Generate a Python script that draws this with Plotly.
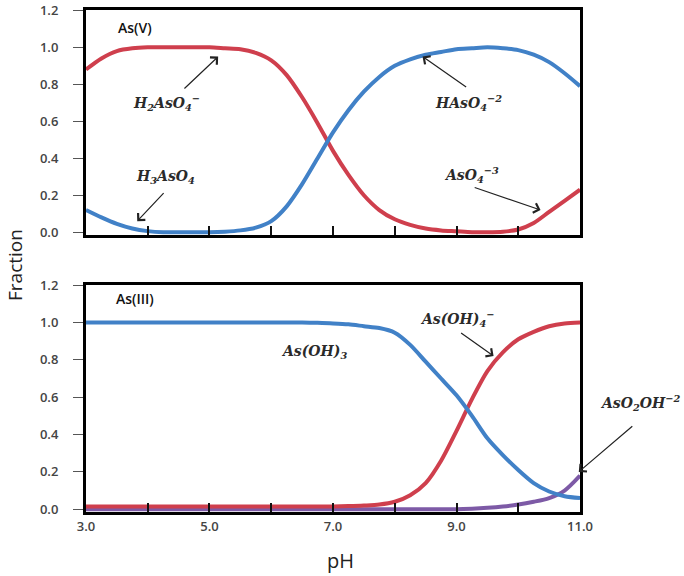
import plotly.graph_objects as go

ph = [3.0, 3.25, 3.5, 3.75, 4.0, 4.25, 4.5, 4.75, 5.0, 5.25, 5.5, 5.75, 6.0, 6.25, 6.5, 6.75,
      7.0, 7.25, 7.5, 7.75, 8.0, 8.25, 8.5, 8.75, 9.0, 9.25, 9.5, 9.75, 10.0, 10.25, 10.5, 10.75, 11.0]

# As(V) panel
as5_red = [0.88, 0.94, 0.98, 0.995, 1.0, 1.0, 1.0, 1.0, 1.0, 0.995, 0.99, 0.97, 0.93, 0.85, 0.73, 0.59,
           0.44, 0.31, 0.20, 0.12, 0.07, 0.04, 0.02, 0.01, 0.005, 0.0, 0.0, 0.003, 0.015, 0.05, 0.11, 0.17, 0.23]
as5_blue = [0.12, 0.08, 0.045, 0.02, 0.006, 0.0, 0.0, 0.0, 0.0, 0.003, 0.01, 0.025, 0.06, 0.14, 0.26, 0.40,
            0.54, 0.66, 0.76, 0.84, 0.90, 0.935, 0.96, 0.975, 0.99, 0.995, 1.0, 0.995, 0.985, 0.96, 0.92, 0.86, 0.79]

# As(III) panel
as3_blue = [1.0, 1.0, 1.0, 1.0, 1.0, 1.0, 1.0, 1.0, 1.0, 1.0, 1.0, 1.0, 1.0, 1.0, 1.0, 0.998,
            0.995, 0.99, 0.98, 0.97, 0.945, 0.88, 0.79, 0.70, 0.61, 0.50, 0.38, 0.29, 0.21, 0.14, 0.095, 0.07, 0.06]
as3_red = [0.015, 0.015, 0.015, 0.015, 0.015, 0.015, 0.015, 0.015, 0.015, 0.015, 0.015, 0.015, 0.015, 0.015, 0.015, 0.015,
           0.015, 0.017, 0.02, 0.025, 0.04, 0.075, 0.14, 0.26, 0.42, 0.59, 0.74, 0.84, 0.91, 0.95, 0.98, 0.995, 1.0]
as3_purple = [0.0, 0.0, 0.0, 0.0, 0.0, 0.0, 0.0, 0.0, 0.0, 0.0, 0.0, 0.0, 0.0, 0.0, 0.0, 0.0,
              0.0, 0.0, 0.0, 0.0, 0.0, 0.0, 0.0, 0.0, 0.0, 0.003, 0.008, 0.015, 0.025, 0.04, 0.06, 0.10, 0.18]

x_tickvals = [3, 4, 5, 6, 7, 8, 9, 10, 11]
x_ticktext = ["3.0", "", "5.0", "", "7.0", "", "9.0", "", "11.0"]
y_tickvals = [0.0, 0.2, 0.4, 0.6, 0.8, 1.0, 1.2]

RED = "#cf3f4d"
BLUE = "#4181c7"
PURPLE = "#7d5aa6"

fig = go.Figure()

def line(x, y, color, xa, ya):
    fig.add_trace(go.Scatter(x=x, y=y, mode="lines", xaxis=xa, yaxis=ya,
                             line=dict(color=color, width=4, shape="spline", smoothing=0.8),
                             showlegend=False, hoverinfo="skip"))

line(ph, as5_red, RED, "x", "y")
line(ph, as5_blue, BLUE, "x", "y")
line(ph, as3_purple, PURPLE, "x2", "y2")
line(ph, as3_red, RED, "x2", "y2")
line(ph, as3_blue, BLUE, "x2", "y2")

tickfont = dict(family="Open Sans", size=13, color="#444", weight=600)

xcommon = dict(range=[3, 11], tickvals=x_tickvals, ticks="inside", ticklen=9, tickwidth=1.5,
               tickcolor="#111", showline=True, linecolor="#000", linewidth=3, mirror=True,
               showgrid=False, zeroline=False, tickfont=tickfont)
ycommon = dict(range=[-0.015, 1.2], tickvals=y_tickvals, tickformat=".1f", ticks="outside",
               ticklen=10, tickwidth=1, tickcolor="#555", showline=True, linecolor="#000",
               linewidth=3, mirror=True, showgrid=False, zeroline=False, tickfont=tickfont,
               ticklabelstandoff=12)

fig.update_layout(
    width=684, height=576,
    margin=dict(l=0, r=0, t=0, b=0, autoexpand=False),
    paper_bgcolor="white", plot_bgcolor="white",
    xaxis=dict(xcommon, domain=[0.1257, 0.848], anchor="y", ticktext=[""] * 9),
    yaxis=dict(ycommon, domain=[0.592, 0.982], anchor="x"),
    xaxis2=dict(xcommon, domain=[0.1257, 0.848], anchor="y2", ticktext=x_ticktext),
    yaxis2=dict(ycommon, domain=[0.111, 0.505], anchor="x2"),
)

TXT = dict(family="DejaVu Serif", size=14, color="#2a2a2a", weight=600)
LBL = dict(family="Open Sans", size=14, color="#111", weight=600)

def text(x, y, s, xr="x", yr="y", font=TXT):
    fig.add_annotation(x=x, y=y, xref=xr, yref=yr, text=s, showarrow=False, font=font)

def arrow(hx, hy, tx, ty, xr="x", yr="y"):
    fig.add_annotation(x=hx, y=hy, ax=tx, ay=ty, xref=xr, yref=yr, axref=xr, ayref=yr,
                       text="", showarrow=True, arrowhead=4, arrowsize=1.6, arrowwidth=1.2,
                       arrowcolor="#222")

# top panel
text(3.8, 1.11, "As(V)", font=LBL)
text(4.3, 0.70, "<i>H<sub>2</sub>AsO<sub>4</sub><sup>−</sup></i>")
arrow(5.14, 0.95, 4.57, 0.77)
text(4.28, 0.30, "<i>H<sub>3</sub>AsO<sub>4</sub></i>")
arrow(3.83, 0.06, 4.28, 0.22)
text(9.2, 0.70, "<i>HAsO<sub>4</sub><sup>−2</sup></i>")
arrow(8.45, 0.95, 9.18, 0.78)
text(9.25, 0.31, "<i>AsO<sub>4</sub><sup>−3</sup></i>")
arrow(10.36, 0.12, 9.27, 0.245)

# bottom panel
text(3.8, 1.13, "As(III)", "x2", "y2", font=LBL)
text(6.7, 0.84, "<i>As(OH)<sub>3</sub></i>", "x2", "y2")
text(9.0, 1.02, "<i>As(OH)<sub>4</sub><sup>−</sup></i>", "x2", "y2")
arrow(9.6, 0.82, 9.05, 0.95, "x2", "y2")
fig.add_annotation(x=598 / 684, y=1 - 403 / 576, xref="paper", yref="paper", xanchor="left",
                   yanchor="middle", text="<i>AsO<sub>2</sub>OH<sup>−2</sup></i>", showarrow=False, font=TXT)
fig.add_annotation(x=10.98, y=0.2, xref="x2", yref="y2", ax=55, ay=-47, text="",
                   showarrow=True, arrowhead=4, arrowsize=1.6, arrowwidth=1.2, arrowcolor="#222")

# axis titles
fig.add_annotation(x=15 / 684, y=1 - 265 / 576, xref="paper", yref="paper", text="Fraction",
                   xanchor="center", yanchor="middle", textangle=-90, showarrow=False,
                   font=dict(family="Open Sans", size=19, color="#222"))
fig.add_annotation(x=340 / 684, y=1 - 560 / 576, xref="paper", yref="paper", text="pH",
                   xanchor="center", yanchor="middle", showarrow=False,
                   font=dict(family="Open Sans", size=20, color="#222"))

fig.write_html("out.html")
